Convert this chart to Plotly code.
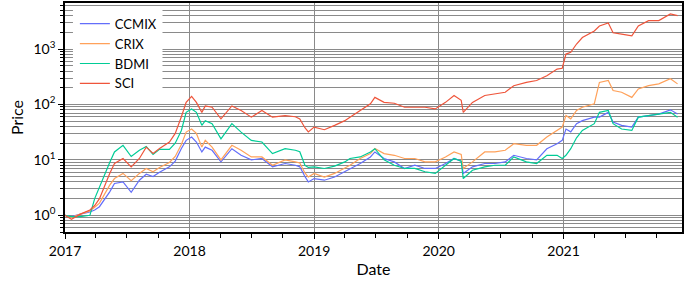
import plotly.graph_objects as go

dates = [
    "2017-01-01", "2017-01-20", "2017-02-15", "2017-03-15", "2017-03-29", "2017-04-12",
    "2017-05-12", "2017-05-26", "2017-06-20", "2017-07-14", "2017-08-07", "2017-08-27",
    "2017-09-16", "2017-10-05", "2017-11-03", "2017-11-20", "2017-12-08", "2017-12-22",
    "2018-01-07", "2018-01-21", "2018-02-06", "2018-02-16", "2018-03-08", "2018-04-03",
    "2018-05-05", "2018-06-01", "2018-07-01", "2018-08-01", "2018-09-01", "2018-10-08",
    "2018-11-07", "2018-11-20", "2018-12-05", "2018-12-15", "2019-01-01", "2019-01-31",
    "2019-03-02", "2019-04-01", "2019-04-16", "2019-05-16", "2019-06-15", "2019-06-28",
    "2019-07-25", "2019-08-24", "2019-09-23", "2019-10-23", "2019-11-22", "2019-12-22",
    "2020-01-21", "2020-02-15", "2020-03-07", "2020-03-13", "2020-04-09", "2020-05-15",
    "2020-06-14", "2020-07-14", "2020-08-08", "2020-09-14", "2020-10-14", "2020-11-13",
    "2020-12-13", "2020-12-28", "2021-01-08", "2021-01-22", "2021-02-08", "2021-02-25",
    "2021-04-01", "2021-04-16", "2021-05-12", "2021-05-26", "2021-06-20", "2021-07-20",
    "2021-08-08", "2021-09-07", "2021-10-07", "2021-11-10", "2021-12-01",
]

ccmix = [
    1.0, 0.95, 1.05, 1.15, 1.25, 1.43,
    2.65, 3.75, 4.0, 2.6, 4.3, 5.5,
    5.0, 6.0, 7.5, 9.5, 16, 22.5,
    25.8, 21, 13.9, 17, 14.9, 9.2,
    15.9, 12.1, 10, 10.6, 7.5, 8.6,
    8, 7.5, 5.0, 4.0, 4.6, 4.3,
    4.9, 6.1, 7, 8.6, 11.3, 13.9,
    10.6, 9.2, 7, 8, 7, 7,
    8.6, 10.6, 9.5, 5.7, 7.5, 8.6,
    8.6, 9.2, 12.1, 10.6, 10, 15.9,
    19.6, 22.5, 36, 32, 45, 51,
    59, 59, 72, 48, 42, 39,
    59, 63, 67, 80, 67,
]

crix = [
    1.0, 0.92, 1.05, 1.2, 1.4, 1.66,
    3.5, 4.6, 5.7, 4.2, 5.7, 7.0,
    6.1, 7.3, 9.0, 11.5, 19, 31.7,
    36, 30, 17, 22.5, 17, 10,
    18.3, 14.9, 11.3, 11.3, 8, 10,
    9.2, 8.8, 5.8, 4.9, 5.7, 4.9,
    5.7, 7, 8, 10.6, 13, 16,
    13, 12.1, 10.6, 10.6, 9.2, 9.2,
    11.3, 13.9, 12.5, 7, 9.2, 13.9,
    13.9, 14.9, 19.6, 18.3, 18.3, 25.8,
    34, 39, 63, 55, 78, 89,
    103, 250, 270, 178, 166, 134,
    190, 218, 235, 290, 235,
]

bdmi = [
    1.0, 0.95, 0.95, 1.0, 2.0, 3.3,
    9.0, 13.9, 18.3, 11.5, 14.9, 17.5,
    12.5, 15.5, 15.5, 20, 34, 72,
    83, 72, 42, 51, 45, 24,
    45, 31.7, 22.5, 21, 13, 15.9,
    14.9, 14, 8.0, 7.3, 7.5, 7.0,
    7.7, 9.2, 10.6, 11.3, 13.9, 15.9,
    10, 8, 7, 7, 6.1, 5.7,
    8, 10.6, 9.5, 4.6, 6.5, 7.5,
    8, 8, 11.3, 9.2, 8.6, 12.1,
    12.1, 10.6, 12.1, 15.9, 25, 34,
    45, 72, 78, 45, 36, 34,
    59, 63, 67, 72, 59,
]

sci = [
    1.0, 0.85, 1.05, 1.25, 1.5, 2.0,
    5.7, 8.6, 10.6, 7.5, 10.6, 17,
    13, 16, 21, 30, 60, 109,
    140, 109, 72, 94, 89, 55,
    94, 78, 59, 78, 59, 63,
    60, 55, 38, 32, 39, 35,
    42, 51, 59, 78, 103, 134,
    109, 105, 89, 89, 89, 83,
    109, 145, 119, 72, 109, 145,
    155, 166, 218, 250, 270, 330,
    435, 450, 810, 870, 1230, 1610,
    2120, 2600, 2950, 1960, 1850, 1730,
    2600, 3250, 3250, 4300, 4000,
]

series_names = ["CCMIX", "CRIX", "BDMI", "SCI"]
series_values = [ccmix, crix, bdmi, sci]
series_colors = ["#636efa", "#ffa15a", "#00cc96", "#ef553b"]

y_major = [1, 10, 100, 1000]
y_major_text = ["10<sup>0</sup>", "10<sup>1</sup>", "10<sup>2</sup>", "10<sup>3</sup>"]
y_minor = [m * 10 ** e for e in range(-1, 4) for m in range(2, 10)]

fig = go.Figure()
for name, vals, col in zip(series_names, series_values, series_colors):
    fig.add_trace(go.Scatter(x=dates, y=vals, mode="lines", name=name,
                             line=dict(color=col, width=1.2)))

grid = "#8a8a8a"
fig.update_layout(
    width=685, height=283,
    margin=dict(l=65, r=1, t=2, b=51),
    paper_bgcolor="white", plot_bgcolor="white",
    font=dict(family="Lato", size=14, color="black"),
    showlegend=True,
    legend=dict(x=0.016, y=0.975, xanchor="left", yanchor="top",
                bgcolor="rgba(0,0,0,0)", borderwidth=0, font=dict(size=13),
                tracegroupgap=0),
    # white panel behind the legend (hides gridlines like the reference)
    shapes=[dict(type="rect", xref="paper", yref="paper",
                 x0=0.0129, x1=0.158, y0=0.622, y1=0.97,
                 fillcolor="white", line=dict(width=0), layer="above")],
)
fig.update_xaxes(
    title=dict(text="Date", font=dict(size=16), standoff=6),
    range=["2017-01-01", "2021-12-14"],
    tick0="2017-01-01", dtick="M12", tickformat="%Y",
    ticks="outside", ticklen=5, tickcolor="black",
    showgrid=True, gridcolor=grid, gridwidth=1,
    minor=dict(dtick="M3", ticks="outside", ticklen=4, tickcolor="black", showgrid=False),
    showline=True, linecolor="black", linewidth=1.5, mirror=True,
    zeroline=False,
)
fig.update_yaxes(
    type="log",
    title=dict(text="Price", font=dict(size=16), standoff=6),
    range=[-0.301, 3.83],
    tickmode="array", tickvals=y_major, ticktext=y_major_text,
    ticks="outside", ticklen=5, tickcolor="black",
    showgrid=True, gridcolor=grid, gridwidth=1,
    minor=dict(tickmode="array", tickvals=y_minor, ticks="outside", ticklen=3,
               tickcolor="black", showgrid=True, gridcolor=grid, gridwidth=1),
    showline=True, linecolor="black", linewidth=1.5, mirror=True,
    zeroline=False,
)

fig.write_html("out.html", config={"displayModeBar": False},
               post_script="document.body.style.margin='0';")
